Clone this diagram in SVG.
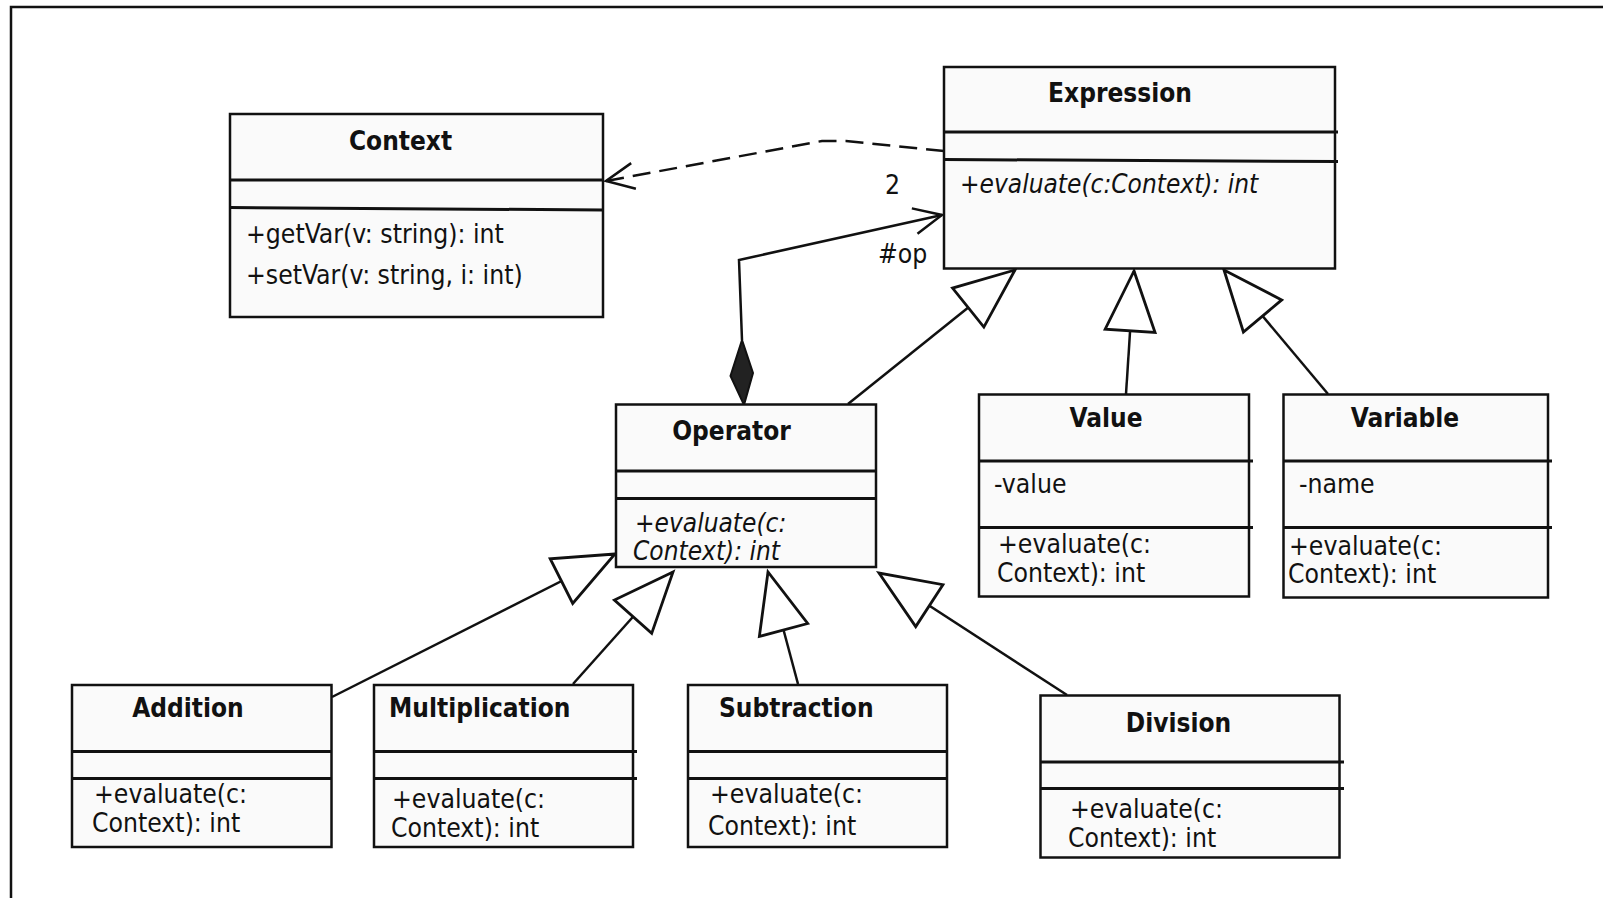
<svg xmlns="http://www.w3.org/2000/svg" width="1603" height="898" viewBox="0 0 1603 898">
<style>
  .box { fill: #fafafa; stroke: #111; stroke-width: 2.5; }
  .div { stroke: #111; stroke-width: 3; fill: none; }
  .t { font-family: "DejaVu Sans Condensed", "DejaVu Sans", Verdana, sans-serif; font-stretch: condensed; font-size: 26.3px; fill: #111; }
  .b { font-weight: bold; text-anchor: middle; font-size: 26px; }
  .bs { font-weight: bold; font-size: 26px; }
  .i { font-style: italic; font-size: 26px; }
  .conn { fill: none; stroke: #111; stroke-width: 2.5; }
  .gen { marker-end: url(#tri); }
</style>
<defs>
  <marker id="tri" viewBox="-64 -28 68 56" markerWidth="68" markerHeight="56" refX="0" refY="0" orient="auto" markerUnits="userSpaceOnUse">
    <path d="M0,0 L-60,-25 L-60,25 Z" fill="#ffffff" stroke="#111" stroke-width="2.8" stroke-linejoin="miter" stroke-dasharray="none"/>
  </marker>
  <marker id="open" viewBox="-34 -18 38 36" markerWidth="38" markerHeight="36" refX="0" refY="0" orient="auto" markerUnits="userSpaceOnUse">
    <path d="M-28,-13 L0,0 L-28,13" fill="none" stroke="#111" stroke-width="2.5" stroke-dasharray="none"/>
  </marker>
</defs>
<rect x="0" y="0" width="1603" height="898" fill="#ffffff"/>
<path d="M11,900 L11,7 L1605,7" fill="none" stroke="#111" stroke-width="2.5"/>

<g id="connectors">
  <path class="conn" d="M944,151 L846,141 L822,141 L606,181" stroke-dasharray="18 9" marker-end="url(#open)"/>
  <path class="conn" d="M742,340 L739,260 L942,215" marker-end="url(#open)"/>
  <polygon points="742,340 730.5,376 744,405 753,373" fill="#222" stroke="#111" stroke-width="2"/>
  <line class="conn gen" x1="848" y1="404" x2="1015" y2="270" stroke-width="2.2"/>
  <line class="conn gen" x1="1126" y1="394" x2="1134" y2="271"/>
  <line class="conn gen" x1="1328" y1="394" x2="1224" y2="270" stroke-width="2.8"/>
  <line class="conn gen" x1="332" y1="697" x2="615" y2="554" stroke-width="2.8"/>
  <line class="conn gen" x1="573" y1="684" x2="673" y2="572" stroke-width="1.5"/>
  <line class="conn gen" x1="798" y1="684" x2="768" y2="572" stroke-width="2.2"/>
  <line class="conn gen" x1="1067" y1="695" x2="879" y2="573" stroke-width="2.8"/>
</g>

<g id="Context">
  <rect class="box" x="230" y="114" width="373" height="203"/>
  <line class="div" x1="230" y1="180" x2="603" y2="180"/>
  <line class="div" x1="230" y1="207.5" x2="603" y2="210" stroke-width="2.5"/>
  <text class="t b" x="400.5" y="150">Context</text>
  <text class="t" x="246" y="243">+getVar(v: string): int</text>
  <text class="t" x="246" y="284">+setVar(v: string, i: int)</text>
</g>

<g id="Expression">
  <rect class="box" x="944" y="67" width="391" height="201.5"/>
  <line class="div" x1="944" y1="132" x2="1338" y2="132"/>
  <line class="div" x1="944" y1="159.5" x2="1338" y2="161.5" stroke-width="2.5"/>
  <text class="t b" x="1120" y="102">Expression</text>
  <text class="t i" x="960" y="193">+evaluate(c:Context): int</text>
</g>

<g id="Operator">
  <rect class="box" x="616" y="404.5" width="260" height="162.5"/>
  <line class="div" x1="616" y1="471" x2="876" y2="471"/>
  <line class="div" x1="616" y1="498.5" x2="876" y2="498.5"/>
  <text class="t b" x="731.5" y="440">Operator</text>
  <text class="t i" x="635" y="532">+evaluate(c:</text>
  <text class="t i" x="633" y="560">Context): int</text>
</g>

<g id="Value">
  <rect class="box" x="979" y="394.5" width="270" height="202"/>
  <line class="div" x1="979" y1="461" x2="1253" y2="461"/>
  <line class="div" x1="979" y1="527.5" x2="1253" y2="527.5"/>
  <text class="t b" x="1106" y="427">Value</text>
  <text class="t" x="994" y="493">-value</text>
  <text class="t" x="998" y="553">+evaluate(c:</text>
  <text class="t" x="997" y="582">Context): int</text>
</g>

<g id="Variable">
  <rect class="box" x="1283.5" y="394.5" width="264.5" height="203"/>
  <line class="div" x1="1283.5" y1="461" x2="1552" y2="461"/>
  <line class="div" x1="1283.5" y1="527.5" x2="1552" y2="527.5"/>
  <text class="t b" x="1405" y="427">Variable</text>
  <text class="t" x="1299" y="493">-name</text>
  <text class="t" x="1289" y="555">+evaluate(c:</text>
  <text class="t" x="1288" y="583">Context): int</text>
</g>

<g id="Addition">
  <rect class="box" x="72" y="685" width="259.5" height="162"/>
  <line class="div" x1="72" y1="751.5" x2="331.5" y2="751.5"/>
  <line class="div" x1="72" y1="778.5" x2="331.5" y2="778.5"/>
  <text class="t b" x="188" y="717">Addition</text>
  <text class="t" x="94" y="803">+evaluate(c:</text>
  <text class="t" x="92" y="832">Context): int</text>
</g>

<g id="Multiplication">
  <rect class="box" x="374" y="685" width="259" height="162"/>
  <line class="div" x1="374" y1="751.5" x2="637" y2="751.5"/>
  <line class="div" x1="374" y1="778.5" x2="637" y2="778.5"/>
  <text class="t bs" x="389" y="717">Multiplication</text>
  <text class="t" x="392" y="808">+evaluate(c:</text>
  <text class="t" x="391" y="837">Context): int</text>
</g>

<g id="Subtraction">
  <rect class="box" x="688" y="685" width="259" height="162"/>
  <line class="div" x1="688" y1="751.5" x2="947" y2="751.5"/>
  <line class="div" x1="688" y1="778.5" x2="947" y2="778.5"/>
  <text class="t bs" x="719" y="717">Subtraction</text>
  <text class="t" x="710" y="803">+evaluate(c:</text>
  <text class="t" x="708" y="835">Context): int</text>
</g>

<g id="Division">
  <rect class="box" x="1040.5" y="695.5" width="299" height="162"/>
  <line class="div" x1="1040.5" y1="762" x2="1344" y2="762"/>
  <line class="div" x1="1040.5" y1="788.5" x2="1344" y2="788.5"/>
  <text class="t b" x="1178.5" y="732">Division</text>
  <text class="t" x="1070" y="818">+evaluate(c:</text>
  <text class="t" x="1068" y="847">Context): int</text>
</g>

<g id="labels">
  <text class="t" x="885" y="194">2</text>
  <text class="t" x="878" y="263">#op</text>
</g>
</svg>
